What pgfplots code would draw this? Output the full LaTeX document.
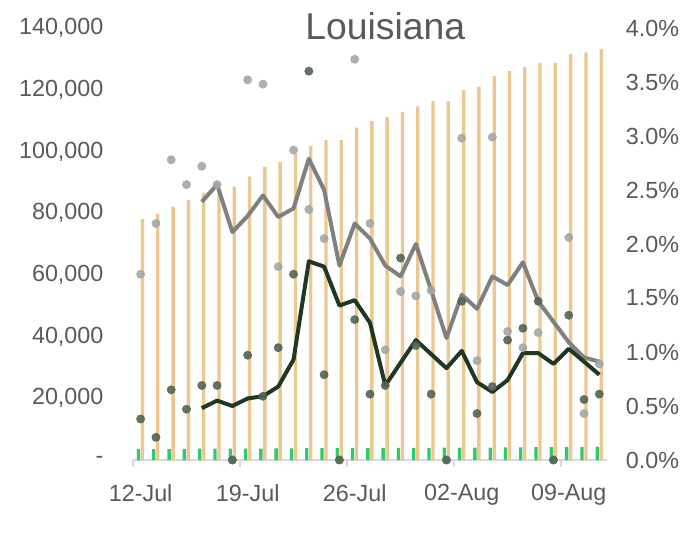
\documentclass[border=0pt]{standalone}
\usepackage{pgfplots}
\pgfplotsset{compat=1.18}
\usepackage{fontspec}
\setmainfont{Liberation Sans}

\definecolor{tanbar}{RGB}{236,200,144}
\definecolor{grnbar}{RGB}{50,200,110}
\definecolor{dotgray}{RGB}{166,166,166}
\definecolor{dotdark}{RGB}{82,100,84}
\definecolor{linegray}{RGB}{128,128,128}
\definecolor{linedark}{RGB}{30,56,36}
\definecolor{txtgray}{RGB}{89,89,89}
\definecolor{axisgray}{RGB}{217,217,217}

\pgfplotstableread{
i tests tested
0 3500 78100
1 3550 79800
2 3550 82100
3 3600 84200
4 3650 86600
5 3650 87600
6 3700 88600
7 3700 91800
8 3700 95000
9 3750 96500
10 3750 99400
11 3850 101700
12 3850 103700
13 3850 103700
14 3900 107700
15 3900 109900
16 3900 111200
17 3950 112800
18 3950 114600
19 3950 116300
20 4000 116300
21 4000 119900
22 4050 120900
23 4050 124400
24 4100 126000
25 4100 127300
26 4150 128700
27 4150 128700
28 4200 131500
29 4250 132100
30 4300 133200
}\bars

\pgfplotstableread{
i pos dth
0 1.72 0.38
1 2.19 0.21
2 2.78 0.65
3 2.55 0.47
4 2.72 0.69
5 2.55 0.69
6 0 0
7 3.52 0.97
8 3.48 0.59
9 1.79 1.04
10 2.87 1.72
11 2.32 3.60
12 2.05 0.79
13 0 0
14 3.71 1.30
15 2.19 0.61
16 1.02 0.69
17 1.56 1.87
18 1.52 1.06
19 1.57 0.61
20 0 0
21 2.98 1.47
22 0.92 0.43
23 2.99 0.68
24 1.19 1.11
25 1.04 1.22
26 1.18 1.47
27 0 0
28 2.06 1.34
29 0.43 0.56
30 0.89 0.61
}\daily

\pgfplotstableread{
i pos dth
4 2.39 0.48
5 2.55 0.55
6 2.11 0.50
7 2.26 0.57
8 2.45 0.59
9 2.25 0.68
10 2.33 0.93
11 2.79 1.84
12 2.50 1.79
13 1.80 1.43
14 2.19 1.48
15 2.05 1.27
16 1.80 0.69
17 1.70 0.90
18 2.00 1.11
19 1.57 0.98
20 1.13 0.85
21 1.53 1.01
22 1.40 0.72
23 1.70 0.63
24 1.62 0.74
25 1.83 0.99
26 1.47 0.99
27 1.28 0.89
28 1.09 1.03
29 0.95 0.91
30 0.91 0.79
}\avg

\begin{document}
\begin{tikzpicture}
\useasboundingbox (0,0) rectangle (513.75pt,404.25pt);

\node[anchor=base, text=txtgray, font=\fontsize{28}{32}\selectfont] at (289pt,374.25pt) {Louisiana};

% left axis: tests
\begin{axis}[
  at={(99.75pt,59.25pt)}, anchor=south west,
  scale only axis, width=355.5pt, height=324pt,
  xmin=-0.5, xmax=30.5, ymin=0, ymax=140000,
  scaled y ticks=false,
  axis x line*=bottom, axis y line*=left,
  x axis line style={draw=axisgray, line width=1.1pt, -},
  y axis line style={draw=none},
  xtick={0,7,14,21,28},
  xticklabels={12-Jul,19-Jul,26-Jul,02-Aug,09-Aug},
  major tick length=0pt,
  extra x ticks={-0.5,6.5,13.5,20.5,27.5},
  extra x tick labels={},
  extra x tick style={major tick length=5pt, tick align=outside,
    tick style={draw=axisgray, line width=1pt}},
  ytick={0,20000,40000,60000,80000,100000,120000,140000},
  yticklabels={{-\hspace{9pt}},{20,000},{40,000},{60,000},{80,000},{100,000},{120,000},{140,000}},
  tick label style={font=\fontsize{17.5}{20}\selectfont, text=txtgray},
  xticklabel style={anchor=north, inner sep=0pt, yshift=-18pt},
  yticklabel style={anchor=east, inner sep=0pt, xshift=-22pt},
  ybar, bar width=2.5pt,
  clip=false,
]
\addplot[fill=grnbar, draw=none, bar shift=-1.6pt] table[x=i, y=tests] {\bars};
\addplot[fill=tanbar, draw=none, bar shift=1.4pt] table[x=i, y=tested] {\bars};
\end{axis}

% right axis: rates
\begin{axis}[
  at={(99.75pt,59.25pt)}, anchor=south west,
  scale only axis, width=355.5pt, height=324pt,
  xmin=-0.5, xmax=30.5, ymin=0, ymax=4,
  hide x axis,
  axis y line*=right,
  y axis line style={draw=none},
  major tick length=0pt,
  ytick={0,0.5,1,1.5,2,2.5,3,3.5,4},
  yticklabels={0.0\%,0.5\%,1.0\%,1.5\%,2.0\%,2.5\%,3.0\%,3.5\%,4.0\%},
  yticklabel style={anchor=west, inner sep=0pt, xshift=14pt,
    font=\fontsize{17.5}{20}\selectfont, text=txtgray},
  clip=false,
]
\addplot[dotgray, only marks, mark=*, mark size=3.1pt,
  mark options={opacity=0.9}]
  table[x=i, y=pos] {\daily};
\addplot[dotdark, only marks, mark=*, mark size=3.1pt,
  mark options={opacity=0.9}]
  table[x=i, y=dth] {\daily};
\addplot[linegray, line width=3pt, line join=round, mark=none] table[x=i, y=pos] {\avg};
\addplot[linedark, line width=3pt, line join=round, mark=none] table[x=i, y=dth] {\avg};
\end{axis}
\end{tikzpicture}
\end{document}
